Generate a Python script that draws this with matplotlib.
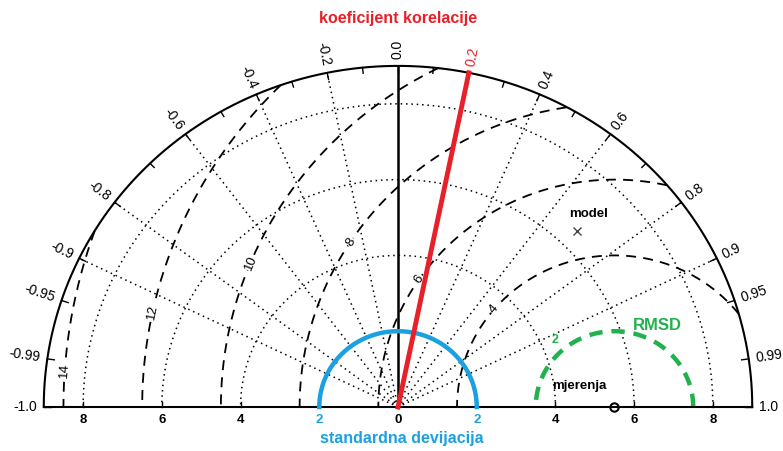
import numpy as np
import matplotlib
matplotlib.use('Agg')
import matplotlib.pyplot as plt

plt.rcParams['font.family'] = ['Liberation Sans', 'DejaVu Sans']

# data
max_std = 9.0
ref_std = 5.5
model_std = 6.5
model_corr = 0.70
highlight_corr = 0.2
highlight_std = 2.0
std_arcs = [4, 6, 8]
std_ticks = [2, 4, 6, 8]
corr_major = [-1.0, -0.99, -0.95, -0.9, -0.8, -0.6, -0.4, -0.2, 0.0,
              0.2, 0.4, 0.6, 0.8, 0.9, 0.95, 0.99, 1.0]
corr_labels = ['-1.0', '-0.99', '-0.95', '-0.9', '-0.8', '-0.6', '-0.4', '-0.2', '0.0',
               '0.2', '0.4', '0.6', '0.8', '0.9', '0.95', '0.99', '1.0']
corr_lines = [-0.9, -0.8, -0.6, -0.4, -0.2, 0.4, 0.6, 0.8, 0.9]
corr_minor = [-0.7, -0.5, -0.3, -0.1, 0.1, 0.3, 0.5, 0.7]
rmsd_levels = [4, 6, 8, 10, 12, 14]
rmsd_label_angles = [140, 145.7, 147, 157.6, 168, 176]
rmsd_green = 2

RED = '#e8202a'
BLUE = '#1ba1e2'
GREEN = '#22b14c'

fig = plt.figure(figsize=(7.83, 4.51), dpi=100)
ax = fig.add_axes([0, 0, 1, 1])
ax.set_xlim(-398 / 39.36, 385 / 39.36)
ax.set_ylim(-44 / 37.9, 407 / 37.9)
ax.axis('off')

t = np.linspace(0, np.pi, 400)

# std dev dotted arcs
for s in std_arcs:
    ax.plot(s * np.cos(t), s * np.sin(t), color='k', ls=(0, (1, 2.5)), lw=1.1)

# correlation radial dotted lines
for c in corr_lines:
    a = np.arccos(c)
    ax.plot([0, max_std * np.cos(a)], [0, max_std * np.sin(a)],
            color='k', ls=(0, (1, 2.5)), lw=1.1)

# RMSD dashed contours, clipped to outer circle
for lev, ang in zip(rmsd_levels, rmsd_label_angles):
    tt = np.linspace(0, np.pi, 1200)
    x = ref_std + lev * np.cos(tt)
    y = lev * np.sin(tt)
    inside = np.hypot(x, y) <= max_std
    x = np.where(inside, x, np.nan)
    y = np.where(inside, y, np.nan)
    ax.plot(x, y, color='k', ls=(0, (5.5, 4)), lw=1.3)
    a = np.radians(ang)
    lx = ref_std + lev * np.cos(a)
    ly = lev * np.sin(a)
    ax.text(lx, ly, str(lev), fontsize=9.5, ha='center', va='center',
            rotation=ang - 90, rotation_mode='anchor',
            bbox=dict(fc='white', ec='none', pad=0.5))

# green RMSD = 2
ax.plot(ref_std + rmsd_green * np.cos(t), rmsd_green * np.sin(t),
        color=GREEN, ls=(0, (3, 2)), lw=3.2)
ax.text(3.99, 1.77, '2', color=GREEN, fontsize=9, fontweight='bold',
        ha='center', va='center')
ax.text(6.58, 2.16, 'RMSD', color=GREEN, fontsize=12, fontweight='bold',
        ha='center', va='center')

# correlation 0 line
ax.plot([0, 0], [0, max_std], color='k', lw=1.8, zorder=4)
# highlighted correlation
a = np.arccos(highlight_corr)
ax.plot([0, max_std * np.cos(a)], [0, max_std * np.sin(a)], color=RED, lw=3.5, zorder=5)
# highlighted std arc
ax.plot(highlight_std * np.cos(t), highlight_std * np.sin(t), color=BLUE, lw=3.2, zorder=4)

# outer arc and baseline
ax.plot(max_std * np.cos(t), max_std * np.sin(t), color='k', lw=1.5)
ax.plot([-max_std, max_std], [0, 0], color='k', lw=1.5)

# arc ticks and labels
for c, lab in zip(corr_major, corr_labels):
    a = np.arccos(c)
    ca, sa = np.cos(a), np.sin(a)
    ax.plot([max_std * ca, (max_std - 0.18) * ca], [max_std * sa, (max_std - 0.18) * sa],
            color='k', lw=1)
    deg = np.degrees(a)
    col = RED if c == highlight_corr else 'k'
    r = max_std + 0.18
    if c >= 0:
        ax.text(r * ca, r * sa, lab, rotation=deg, rotation_mode='anchor',
                ha='left', va='center', fontsize=10, color=col)
    else:
        ax.text(r * ca, r * sa, lab, rotation=deg - 180, rotation_mode='anchor',
                ha='right', va='center', fontsize=10, color=col)
for c in corr_minor:
    a = np.arccos(c)
    ca, sa = np.cos(a), np.sin(a)
    ax.plot([max_std * ca, (max_std - 0.15) * ca], [max_std * sa, (max_std - 0.15) * sa],
            color='k', lw=1)

# baseline ticks and labels
for s in std_ticks:
    for sign in (-1, 1):
        ax.plot([sign * s, sign * s], [0, 0.12], color='k', lw=1)
        col = BLUE if s == highlight_std else 'k'
        ax.text(sign * s, -0.33, str(s), ha='center', va='center', fontsize=9.5,
                fontweight='bold', color=col)
ax.text(0, -0.33, '0', ha='center', va='center', fontsize=9.5, fontweight='bold')

# points
ax.plot(model_std * model_corr, model_std * np.sin(np.arccos(model_corr)),
        marker='x', color='#444444', ms=6, mew=1)
ax.text(4.85, 5.09, 'model', fontsize=9.5, fontweight='bold', ha='center', va='center')
ax.plot(ref_std, 0, marker='o', mfc='none', mec='k', ms=6, mew=1.5, zorder=5)
ax.text(4.6, 0.55, 'mjerenja', fontsize=9.5, fontweight='bold', ha='center', va='center')

# titles
ax.text(0, 10.26, 'koeficijent korelacije', color=RED, fontsize=11.5,
        fontweight='bold', ha='center', va='center')
ax.text(0.1, -0.82, 'standardna devijacija', color=BLUE, fontsize=11.5,
        fontweight='bold', ha='center', va='center')

fig.savefig('out.png', dpi=100)
